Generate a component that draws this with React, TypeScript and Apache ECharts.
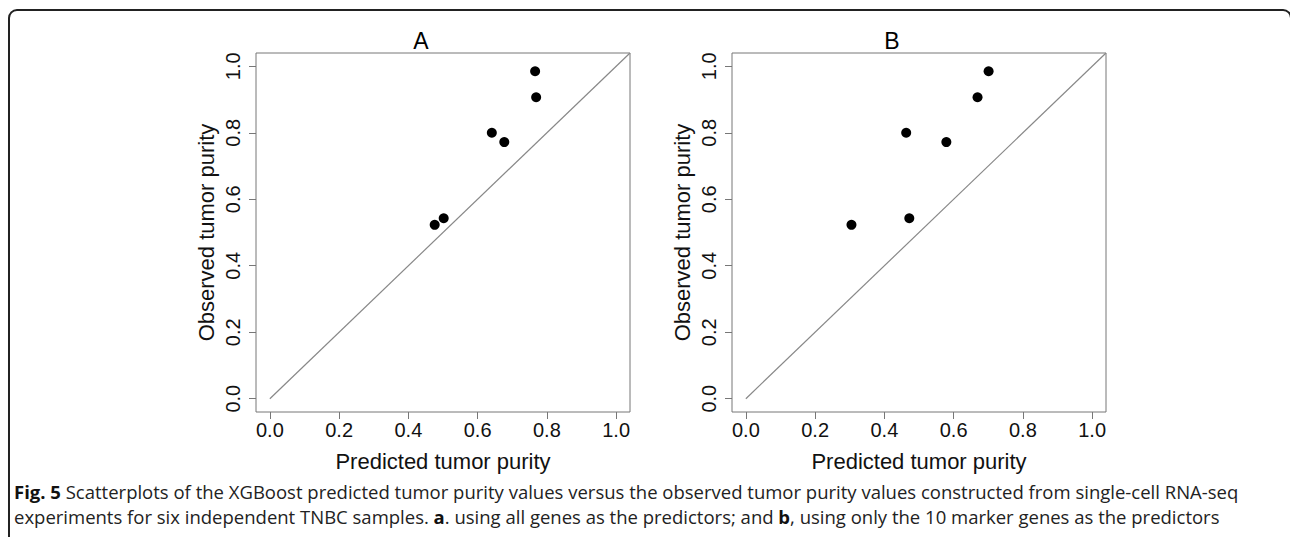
import React, { useEffect, useRef } from "react";
import * as echarts from "echarts";

const observedPurity = [0.985, 0.907, 0.8, 0.772, 0.523, 0.543];
const predictedA = [0.766, 0.769, 0.641, 0.677, 0.476, 0.502];
const predictedB = [0.701, 0.669, 0.463, 0.579, 0.305, 0.472];
const tickValues = [0, 0.2, 0.4, 0.6, 0.8, 1.0];
const identityLine = [[0, 0], [1.04, 1.04]];
const panelTitles = ["A", "B"];
const xAxisTitle = "Predicted tumor purity";
const yAxisTitle = "Observed tumor purity";
const captionLine1 =
  "{b|Fig. 5} Scatterplots of the XGBoost predicted tumor purity values versus the observed tumor purity values constructed from single-cell RNA-seq";
const captionLine2 =
  "experiments for six independent TNBC samples. {b|a}. using all genes as the predictors; and {b|b}, using only the 10 marker genes as the predictors";

const FONT = "Liberation Sans, Arial, sans-serif";
const CAP_FONT = "Open Sans, sans-serif";
const AXIS_GRAY = "#777";

export default function App() {
  const ref = useRef<HTMLDivElement>(null);
  useEffect(() => {
    document.body.style.margin = "0";
    if (!ref.current) return;
    const chart = echarts.init(ref.current, null, { renderer: "svg" });

    const grids = [
      { left: 256, top: 53, width: 374, height: 359 },
      { left: 732, top: 53, width: 374, height: 359 },
    ];

    const tick = {
      show: true,
      inside: false,
      length: 7,
      customValues: tickValues,
      lineStyle: { color: AXIS_GRAY, width: 1 },
    };

    const makeX = (i: number) => ({
      type: "value",
      gridIndex: i,
      min: -0.04,
      max: 1.04,
      name: xAxisTitle,
      nameLocation: "middle",
      nameGap: 38,
      nameTextStyle: { fontFamily: FONT, fontSize: 22, color: "#111" },
      axisLine: { show: false, onZero: false },
      splitLine: { show: false },
      axisTick: tick,
      axisLabel: {
        customValues: tickValues,
        formatter: (v: number) => v.toFixed(1),
        fontFamily: FONT,
        fontSize: 20,
        color: "#111",
        margin: 8,
      },
    });
    const makeY = (i: number) => ({
      type: "value",
      gridIndex: i,
      min: -0.04,
      max: 1.04,
      name: yAxisTitle,
      nameLocation: "middle",
      nameGap: 39,
      nameRotate: 90,
      nameTextStyle: { fontFamily: FONT, fontSize: 22, color: "#111" },
      axisLine: { show: false, onZero: false },
      splitLine: { show: false },
      axisTick: tick,
      axisLabel: {
        customValues: tickValues,
        formatter: (v: number) => v.toFixed(1),
        rotate: 90,
        fontFamily: FONT,
        fontSize: 20,
        color: "#111",
        margin: 13,
      },
    });

    const scatter = (i: number, xs: number[]) => ({
      type: "scatter",
      xAxisIndex: i,
      yAxisIndex: i,
      symbol: "circle",
      symbolSize: 10,
      itemStyle: { color: "#000", opacity: 1 },
      data: xs.map((x, k) => [x, observedPurity[k]]),
      silent: true,
    });
    const diag = (i: number) => ({
      type: "line",
      xAxisIndex: i,
      yAxisIndex: i,
      data: identityLine,
      showSymbol: false,
      clip: true,
      lineStyle: { color: "#888", width: 1.2 },
      silent: true,
    });

    const capStyle = (text: string) => ({
      text,
      fontFamily: CAP_FONT,
      fontSize: 18.5,
      fill: "#222",
      textVerticalAlign: "middle",
      rich: {
        b: { fontWeight: "bold", fontFamily: CAP_FONT, fontSize: 18.5, fill: "#111" },
      },
    });

    chart.setOption({
      animation: false,
      backgroundColor: "#fff",
      grid: grids.map((g) => ({
        ...g,
        show: true,
        borderColor: AXIS_GRAY,
        borderWidth: 1,
        backgroundColor: "transparent",
      })),
      xAxis: [makeX(0), makeX(1)],
      yAxis: [makeY(0), makeY(1)],
      series: [diag(0), scatter(0, predictedA), diag(1), scatter(1, predictedB)],
      graphic: [
        {
          type: "rect",
          shape: { x: 9, y: 10, width: 1282, height: 600, r: 8 },
          style: { fill: "none", stroke: "#222", lineWidth: 2 },
          silent: true,
        },
        {
          type: "text",
          x: 421,
          y: 41,
          style: {
            text: panelTitles[0],
            font: `23px ${FONT}`,
            fill: "#000",
            textAlign: "center",
            textVerticalAlign: "middle",
          },
        },
        {
          type: "text",
          x: 892,
          y: 41,
          style: {
            text: panelTitles[1],
            font: `23px ${FONT}`,
            fill: "#000",
            textAlign: "center",
            textVerticalAlign: "middle",
          },
        },
        { type: "text", x: 14, y: 491, style: capStyle(captionLine1) },
        { type: "text", x: 14, y: 516, style: capStyle(captionLine2) },
      ],
    });
    return () => chart.dispose();
  }, []);
  return <div ref={ref} style={{ width: 1290, height: 537 }} />;
}
